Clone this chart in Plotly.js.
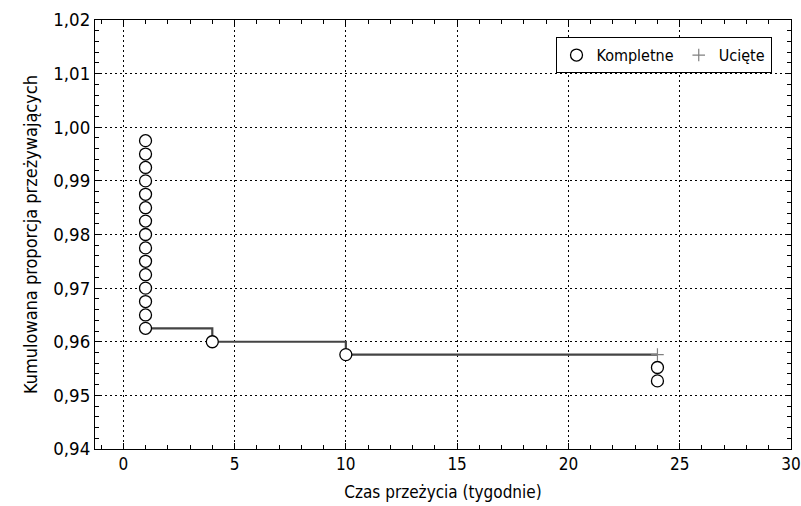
<!DOCTYPE html>
<html>
<head>
<meta charset="utf-8">
<script src="https://cdn.plot.ly/plotly-3.0.1.min.js"></script>
<style>html,body{margin:0;padding:0;background:#fff;}#chart{width:801px;height:506px;}</style>
</head>
<body>
<div id="chart"></div>
<script>
// Completed (events) – open circles
const completeX = [1,1,1,1,1,1,1,1,1,1,1,1,1,1,1, 4, 10, 24, 24];
const completeY = [0.9975,0.9950,0.9925,0.9900,0.9875,0.9850,0.9825,0.9800,0.9775,0.9750,0.9725,0.9700,0.9675,0.9650,0.9625,
                   0.9600, 0.9576, 0.9552, 0.9527];
// Censored – plus marks
const censoredX = [24];
const censoredY = [0.9576];
// Survival step line
const survX = [1, 4, 10, 24];
const survY = [0.9625, 0.9600, 0.9576, 0.9576];

const xTickVals = [0, 5, 10, 15, 20, 25, 30];
const yTickVals = [0.94, 0.95, 0.96, 0.97, 0.98, 0.99, 1.00, 1.01, 1.02];

const FONT = '"DejaVu Sans Condensed", "Liberation Sans Narrow", sans-serif';

const traces = [
  {
    x: survX, y: survY, mode: 'lines', line: {shape: 'hv', color: '#444444', width: 2.2},
    showlegend: false, hoverinfo: 'skip'
  },
  {
    x: completeX, y: completeY, mode: 'markers', name: 'Kompletne',
    marker: {symbol: 'circle', size: 12, color: '#ffffff', line: {color: '#000000', width: 1.3}}
  },
  {
    x: censoredX, y: censoredY, mode: 'markers', name: 'Ucięte',
    marker: {symbol: 'cross-thin-open', size: 9, color: '#808080', line: {color: '#808080', width: 1.2}}
  }
];

const axisCommon = {
  showline: true, linecolor: '#000', linewidth: 1, mirror: 'ticks',
  ticks: 'inside', ticklen: 6, tickcolor: '#000', tickwidth: 1,
  showgrid: true, gridcolor: '#000', gridwidth: 1, griddash: '2px,3px',
  zeroline: false
};

const layout = {
  width: 801, height: 506,
  margin: {l: 95, r: 10, t: 20, b: 57},
  paper_bgcolor: '#fff', plot_bgcolor: '#fff',
  separators: ',.',
  font: {family: FONT, color: '#000'},
  xaxis: Object.assign({}, axisCommon, {
    range: [-1.27, 30], tickmode: 'array', tickvals: xTickVals,
    ticktext: xTickVals.map(String),
    tickfont: {family: FONT, size: 17, color: '#000'},
    minor: {dtick: 1, tick0: 0, ticks: 'inside', ticklen: 4, tickcolor: '#000', showgrid: false},
    title: {text: 'Czas przeżycia (tygodnie)', font: {family: FONT, size: 17, color: '#000'}, standoff: 12}
  }),
  yaxis: Object.assign({}, axisCommon, {
    range: [0.94, 1.02], tickmode: 'array', tickvals: yTickVals, tickformat: '.2f',
    tickfont: {family: FONT, size: 18.5, color: '#000'},
    minor: {dtick: 0.002, tick0: 0.94, ticks: 'inside', ticklen: 4, tickcolor: '#000', showgrid: false},
    title: {text: 'Kumulowana proporcja przeżywających', font: {family: FONT, size: 18, color: '#000'}, standoff: 10}
  }),
  legend: {
    orientation: 'h', x: 0.972, xanchor: 'right', y: 0.96, yanchor: 'top',
    bordercolor: '#000', borderwidth: 1, bgcolor: '#fff',
    font: {family: FONT, size: 16, color: '#000'},
    itemwidth: 30, tracegroupgap: 0
  },
  showlegend: true
};

Plotly.newPlot('chart', traces, layout, {staticPlot: true});
</script>
</body>
</html>
